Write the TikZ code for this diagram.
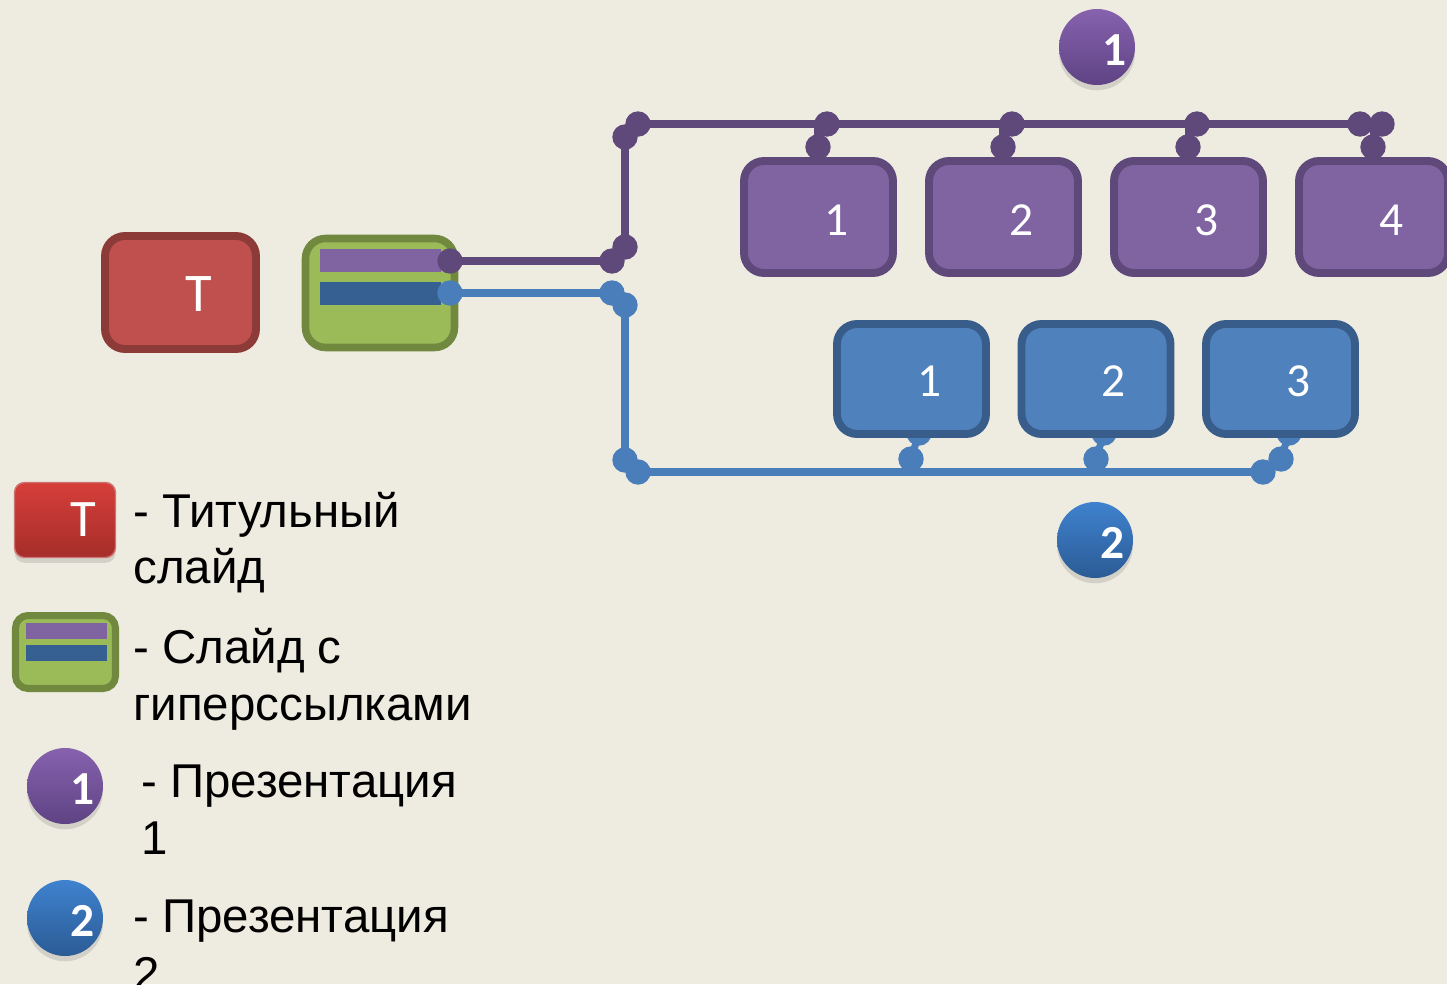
\documentclass[tikz,border=0pt]{standalone}
\usepackage{fontspec}
\setmainfont{Liberation Sans}
\newfontfamily\calfont{Carlito}
\usetikzlibrary{shadows,calc}
\definecolor{bg}{HTML}{EEEBE0}
\definecolor{pfill}{HTML}{8064A2}
\definecolor{pline}{HTML}{5F497A}
\definecolor{bfill}{HTML}{4F81BD}
\definecolor{bline}{HTML}{385D8A}
\definecolor{bconn}{HTML}{4A7EBB}
\definecolor{rfill}{HTML}{C0504D}
\definecolor{rline}{HTML}{8C3B39}
\definecolor{gfill}{HTML}{9BBB59}
\definecolor{gline}{HTML}{71893F}
\definecolor{stripeb}{HTML}{366092}
\definecolor{ptop}{HTML}{8762AE}
\definecolor{pbot}{HTML}{5E4384}
\definecolor{btop}{HTML}{3F82CF}
\definecolor{bbot}{HTML}{2B5B95}
\definecolor{rtop}{HTML}{D63F3A}
\definecolor{rbot}{HTML}{A52D2A}
\tikzset{
  slidebox/.style={rectangle, rounded corners=0.4cm, minimum width=2.98cm, inner sep=0pt},
  pbox/.style={slidebox, fill=pfill, draw=pline, line width=4.5pt, minimum height=2.24cm},
  bbox/.style={slidebox, fill=bfill, draw=bline, line width=4.5pt, minimum height=2.2cm},
  num/.style={text=white, font=\calfont\fontsize{27}{30}\selectfont, inner sep=0pt},
  tnum/.style={text=white, font=\calfont\fontsize{31}{33}\selectfont, inner sep=0pt},
  bnum/.style={text=white, font=\calfont\bfseries\fontsize{27}{30}\selectfont, inner sep=0pt},
  plink/.style={draw=pline, line width=4pt},
  blink/.style={draw=bconn, line width=4pt},
  pdot/.style={fill=pline},
  bdot/.style={fill=bconn},
  badge/.style={circle, minimum size=1.52cm, inner sep=0pt, drop shadow={opacity=0.25, shadow xshift=0pt, shadow yshift=-3pt}},
  legtext/.style={anchor=base west, inner sep=0pt, font=\fontsize{27}{31}\selectfont, text=black},
}
\begin{document}
\begin{tikzpicture}[x=0.02cm, y=-0.02cm]
\useasboundingbox (0,0) rectangle (1447,984);
\clip (0,0) rectangle (1447,984);
\fill[bg] (0,0) rectangle (1447,984);

% junction coordinates
\coordinate (ps) at (450,261);
\coordinate (pa) at (612,261);
\coordinate (pb) at (625,247);
\coordinate (pc) at (625,137);
\coordinate (pd) at (638,124);
\coordinate (pe) at (1382,124);
\coordinate (pf) at (1360,124);
\coordinate (bs) at (450,293);
\coordinate (ba) at (612,293);
\coordinate (bb) at (625,305);
\coordinate (bc) at (625,460);
\coordinate (bd) at (638,472);
\coordinate (be) at (1263,472);

% purple connectors
\draw[plink] (ps) -- (pa);
\draw[plink] (pb) -- (pc);
\draw[plink] (pd) -- (pe);
\foreach \c in {pa,pb,pc,pd,pe,pf} \fill[pdot] (\c) circle[radius=0.254cm];
\foreach \i/\x in {1/818,2/1003,3/1188} {
  \coordinate (pl\i) at (\x,147);
  \coordinate (pu\i) at (\x+9,124);
  \draw[plink] (pl\i) -- (pl\i |- pu\i) -- (pu\i);
  \fill[pdot] (pl\i) circle[radius=0.254cm];
  \fill[pdot] (pu\i) circle[radius=0.254cm];
}
\coordinate (pl4) at (1373,147);
\draw[plink] (pl4) -- (pl4 |- pe) -- (pe);
\fill[pdot] (pl4) circle[radius=0.254cm];

% blue connectors
\draw[blink] (bs) -- (ba);
\draw[blink] (bb) -- (bc);
\draw[blink] (bd) -- (be);
\foreach \c in {ba,bb,bc,bd,be} \fill[bdot] (\c) circle[radius=0.254cm];
\foreach \i/\x in {1/911,2/1096,3/1281} {
  \coordinate (bh\i) at (\x+8,433);
  \coordinate (bl\i) at (\x,459);
  \draw[blink] (bh\i) -- (bl\i);
  \fill[bdot] (bh\i) circle[radius=0.254cm];
  \fill[bdot] (bl\i) circle[radius=0.254cm];
}
\draw[blink] (bl3) -- (be);

% title slide and hyperlink slide
\node[slidebox, fill=rfill, draw=rline, line width=4.5pt, minimum width=3.02cm, minimum height=2.26cm] (tbox) at (180.5,292.5) {};
\node[tnum] (tlab) at (198.5,294) {T};
\node[slidebox, fill=gfill, draw=gline, line width=4.3pt, minimum height=2.18cm] (gbox) at (380,293) {};
\fill[pfill] (320,249) rectangle (441,272);
\fill[stripeb] (320,282) rectangle (441,305);
\fill[pdot] (ps) circle[radius=0.254cm];
\fill[bdot] (bs) circle[radius=0.254cm];

% presentation 1 slides
\foreach \i/\x in {1/818.5,2/1003.5,3/1188.5,4/1373.5} {
  \node[pbox] (p\i) at (\x,217) {};
  \node[num] (pn\i) at (\x+18,220) {\i};
}
% presentation 2 slides
\foreach \i/\x in {1/911.5,2/1096,3/1280.5} {
  \node[bbox] (q\i) at (\x,379) {};
  \node[num] (qn\i) at (\x+18,381) {\i};
}

% badges
\node[badge, top color=ptop, bottom color=pbot] (badge1) at (1097,47) {};
\node[bnum] at (1115,50) {1};
\node[badge, top color=btop, bottom color=bbot] (badge2) at (1095,540) {};
\node[bnum] at (1113,543) {2};

% legend
\node[rectangle, rounded corners=0.2cm, minimum width=2.02cm, minimum height=1.5cm, top color=rtop, bottom color=rbot, draw=rfill!80!white, line width=0.8pt, drop shadow={opacity=0.25, shadow xshift=0pt, shadow yshift=-3pt}] (legt) at (65,520) {};
\node[tnum, font=\calfont\fontsize{30}{32}\selectfont] at (83,520) {T};
\node[legtext] at (133,527) {- Титульный};
\node[legtext] at (133,583) {слайд};

\node[slidebox, rounded corners=0.25cm, fill=gfill, draw=gline, line width=4pt, minimum width=2.0cm, minimum height=1.46cm] (legg) at (65.5,652) {};
\fill[pfill] (26,623) rectangle (107,639);
\fill[stripeb] (26,645) rectangle (107,661);
\node[legtext] at (133,663) {- Слайд с};
\node[legtext] at (133,720) {гиперссылками};

\node[badge, top color=ptop, bottom color=pbot] (leg1) at (65,786) {};
\node[bnum] at (83,789) {1};
\node[legtext] at (141,797) {- Презентация};
\node[legtext] at (141,854) {1};

\node[badge, top color=btop, bottom color=bbot] (leg2) at (65,918) {};
\node[bnum] at (83,921) {2};
\node[legtext] at (133,932) {- Презентация};
\node[legtext] at (133,990) {2};
\end{tikzpicture}
\end{document}
